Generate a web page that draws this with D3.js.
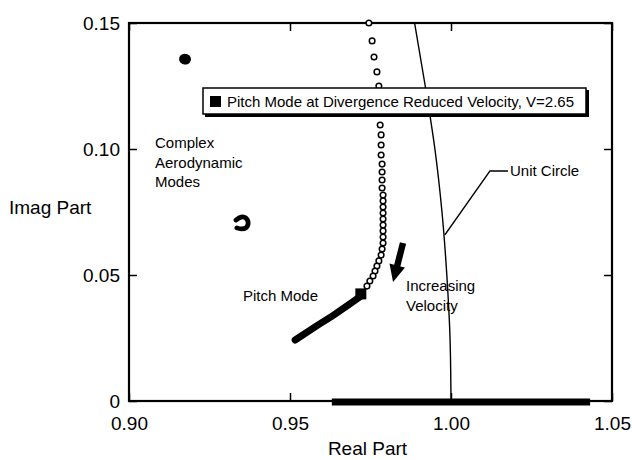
<!DOCTYPE html>
<html>
<head>
<meta charset="utf-8">
<script src="https://cdn.jsdelivr.net/npm/d3@7"></script>
<style>
  html, body { margin: 0; padding: 0; background: #fff; }
  svg { display: block; font-family: "Liberation Sans", Arial, Helvetica, sans-serif; }
</style>
</head>
<body>
<svg id="chart" width="632" height="460"></svg>
<script>
// ---------- data ----------
const xTicks = [0.90, 0.95, 1.00, 1.05];
const xTickLabels = ["0.90", "0.95", "1.00", "1.05"];
const yTicks = [0, 0.05, 0.10, 0.15];
const yTickLabels = ["0", "0.05", "0.10", "0.15"];

// pitch mode root locus (open circles, complex pair branch)
const pitchCircles = [
  [0.9745,0.1500],[0.9755,0.1429],[0.9761,0.1365],[0.9770,0.1306],[0.9776,0.1250],
  [0.9780,0.1198],[0.9780,0.1147],[0.9780,0.1095],[0.9783,0.1056],[0.9783,0.1016],
  [0.9783,0.0976],[0.9786,0.0940],[0.9786,0.0909],[0.9786,0.0877],[0.9786,0.0845],
  [0.9789,0.0817],[0.9789,0.0794],[0.9789,0.0770],[0.9789,0.0746],[0.9789,0.0722],
  [0.9789,0.0698],[0.9789,0.0675],[0.9789,0.0651],[0.9789,0.0627],[0.9786,0.0603],
  [0.9783,0.0579],[0.9776,0.0556],[0.9770,0.0536],[0.9764,0.0516],[0.9758,0.0496],
  [0.9748,0.0476],[0.9739,0.0456]
];
// pitch mode (dense filled points, below divergence)
const pitchLow = [[0.9516,0.0242],[0.9578,0.0294],[0.9640,0.0345],[0.9686,0.0385],[0.9717,0.0413]];
// divergence point
const divergencePoint = [0.9720, 0.0425];
// real-axis roots
const realRoots = [[0.9630,0],[1.0432,0]];
// complex aerodynamic modes
const aeroMode1 = [[0.9172,0.1357],[0.9176,0.1356]];
const aeroMode2 = [[0.9332,0.0718],[0.9348,0.0730],[0.9363,0.0726],[0.9370,0.0706],[0.9363,0.0687],[0.9348,0.0683],[0.9335,0.0687]];
// unit circle
const unitCircle = [[0.9887,0.15],[0.9920,0.125],[0.9950,0.10],[0.9972,0.075],[0.9987,0.05],[0.9997,0.025],[1.0,0]];
// annotations (data coordinates)
const unitLeader = [[0.9981,0.0659],[1.0121,0.0913],[1.0177,0.0913]];
const arrowFromTo = [[0.9851,0.0627],[0.9820,0.0472]];

// ---------- layout ----------
const svg = d3.select("#chart");
const L = 129, R = 612, T = 23, B = 401;
const x = d3.scaleLinear().domain([0.90, 1.05]).range([L, R]);
const y = d3.scaleLinear().domain([0, 0.15]).range([B, T]);
const fontAxis = 19, fontNote = 15;

// axes
const gB = svg.append("g").attr("transform", `translate(0,${B})`)
  .call(d3.axisBottom(x).tickValues(xTicks).tickSize(-8).tickPadding(16)
        .tickFormat((d,i) => xTickLabels[i]));
const gL = svg.append("g").attr("transform", `translate(${L},0)`)
  .call(d3.axisLeft(y).tickValues(yTicks).tickSize(-8).tickPadding(9)
        .tickFormat((d,i) => yTickLabels[i]));
const gT = svg.append("g").attr("transform", `translate(0,${T})`)
  .call(d3.axisTop(x).tickValues(xTicks).tickSize(-8).tickFormat(""));
const gR = svg.append("g").attr("transform", `translate(${R},0)`)
  .call(d3.axisRight(y).tickValues(yTicks).tickSize(-8).tickFormat(""));
[gB, gL, gT, gR].forEach(g => {
  g.select(".domain").remove();
  g.selectAll(".tick line").attr("stroke", "#000").attr("stroke-width", 1.5);
  g.selectAll(".tick text").attr("fill", "#000").style("font-size", fontAxis + "px")
    .style("font-family", '"Liberation Sans", Arial, sans-serif');
});

// frame
svg.append("rect").attr("x", L).attr("y", T).attr("width", R - L).attr("height", B - T)
  .attr("fill", "none").attr("stroke", "#000").attr("stroke-width", 2.2);

// axis titles
svg.append("text").attr("x", (L + R) / 2 - 3).attr("y", 455).attr("text-anchor", "middle")
  .style("font-size", fontAxis + "px").text("Real Part");
svg.append("text").attr("x", 9).attr("y", 207).attr("dy", "0.35em")
  .style("font-size", fontAxis + "px").text("Imag Part");

const line = d3.line().x(d => x(d[0])).y(d => y(d[1]));

// unit circle
svg.append("path").datum(unitCircle).attr("d", line.curve(d3.curveMonotoneY))
  .attr("fill", "none").attr("stroke", "#000").attr("stroke-width", 1.4);
line.curve(d3.curveLinear);

// real-axis thick band
svg.append("path").datum(realRoots).attr("d", line)
  .attr("transform", "translate(0,1)")
  .attr("fill", "none").attr("stroke", "#000").attr("stroke-width", 7);

// aerodynamic modes
svg.selectAll(".aero1").data(aeroMode1).join("circle")
  .attr("cx", d => x(d[0])).attr("cy", d => y(d[1])).attr("r", 5.3).attr("fill", "#000");
svg.append("path").datum(aeroMode2).attr("d", line.curve(d3.curveCardinal))
  .attr("fill", "none").attr("stroke", "#000").attr("stroke-width", 4.8).attr("stroke-linecap", "round");
line.curve(d3.curveLinear);

// pitch mode lower branch
svg.append("path").datum(pitchLow).attr("d", line.curve(d3.curveMonotoneX))
  .attr("fill", "none").attr("stroke", "#000").attr("stroke-width", 7)
  .attr("stroke-linecap", "round").attr("stroke-linejoin", "round");
line.curve(d3.curveLinear);

// pitch mode circles
svg.selectAll(".pc").data(pitchCircles).join("circle")
  .attr("cx", d => x(d[0])).attr("cy", d => y(d[1])).attr("r", 2.8)
  .attr("fill", "#fff").attr("stroke", "#000").attr("stroke-width", 1.5);

// divergence square
svg.append("rect")
  .attr("x", x(divergencePoint[0]) - 5.5).attr("y", y(divergencePoint[1]) - 5.5)
  .attr("width", 11).attr("height", 11).attr("fill", "#000");

// unit circle annotation
svg.append("path").datum(unitLeader).attr("d", line)
  .attr("fill", "none").attr("stroke", "#000").attr("stroke-width", 1.5);
svg.append("text").attr("x", x(unitLeader[2][0]) + 2).attr("y", y(unitLeader[2][1]))
  .attr("dy", "0.35em").style("font-size", fontNote + "px").text("Unit Circle");

// arrow
(function() {
  const [p0, p1] = arrowFromTo.map(d => [x(d[0]), y(d[1])]);
  const dx = p1[0] - p0[0], dy = p1[1] - p0[1];
  const len = Math.hypot(dx, dy), ux = dx / len, uy = dy / len, nx = -uy, ny = ux;
  const hl = 17, hw = 8, sw = 3.2;
  const b = [p1[0] - ux * hl, p1[1] - uy * hl];
  const pts = [
    [p0[0] + nx * sw, p0[1] + ny * sw], [b[0] + nx * sw, b[1] + ny * sw],
    [b[0] + nx * hw, b[1] + ny * hw], p1,
    [b[0] - nx * hw, b[1] - ny * hw], [b[0] - nx * sw, b[1] - ny * sw],
    [p0[0] - nx * sw, p0[1] - ny * sw]
  ];
  svg.append("polygon").attr("points", pts.map(p => p.join(",")).join(" ")).attr("fill", "#000");
})();

// text annotations
const notes = svg.append("g").style("font-size", fontNote + "px");
notes.append("text").attr("x", 155).attr("y", 148).text("Complex");
notes.append("text").attr("x", 155).attr("y", 168).text("Aerodynamic");
notes.append("text").attr("x", 155).attr("y", 187).text("Modes");
notes.append("text").attr("x", 243).attr("y", 301).text("Pitch Mode");
notes.append("text").attr("x", 406).attr("y", 291).text("Increasing");
notes.append("text").attr("x", 406).attr("y", 311).text("Velocity");

// legend box
const lg = svg.append("g");
lg.append("rect").attr("x", 205).attr("y", 90).attr("width", 384).attr("height", 27).attr("fill", "#000");
lg.append("rect").attr("x", 203).attr("y", 88).attr("width", 383).attr("height", 26)
  .attr("fill", "#fff").attr("stroke", "#000").attr("stroke-width", 1.5);
lg.append("rect").attr("x", 210).attr("y", 96).attr("width", 11).attr("height", 11).attr("fill", "#000");
lg.append("text").attr("x", 227).attr("y", 107).style("font-size", fontNote + "px")
  .text("Pitch Mode at Divergence Reduced Velocity, V=2.65");
</script>
</body>
</html>
